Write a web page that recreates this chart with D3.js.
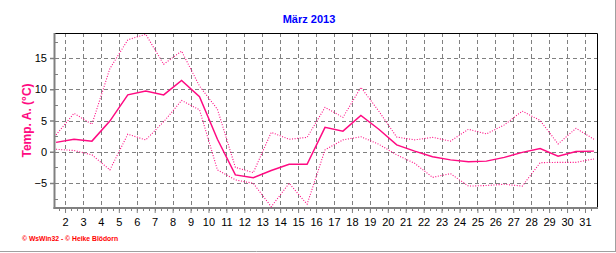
<!DOCTYPE html>
<html>
	<head>
		<meta charset=utf-8>
		<title>März 2013</title>
		<style>
			body { margin: 0; background: #fff; }
			svg { display: block; }
		</style>
	</head>
	<body>
            <script src="https://d3js.org/d3.v7.min.js"></script>

            <script>
                //datos: temperatura diaria (max, media, min)
                var days = d3.range(1, 32);
                var tempMax = [2.7, 6.15, 4.4, 13.3, 17.9, 18.8, 14.0, 16.1, 10.5, 6.8,
                               -2.5, -3.35, 3.1, 2.0, 2.3, 7.1, 5.5, 10.3, 6.5, 2.35,
                               1.9, 2.3, 1.7, 3.6, 2.85, 4.3, 6.5, 5.0, 1.25, 3.75, 2.0];
                var tempMean = [1.5, 2.0, 1.7, 4.9, 9.1, 9.7, 9.1, 11.4, 8.8, 2.0,
                                -3.7, -4.15, -3.0, -2.0, -2.0, 3.9, 3.3, 5.8, 3.6, 1.1,
                                0.1, -0.8, -1.3, -1.6, -1.5, -0.9, -0.1, 0.5, -0.7, 0.05, 0.1];
                var tempMin = [0.4, 0.2, -0.5, -2.9, 2.8, 1.9, 4.8, 8.2, 6.7, -2.9,
                               -4.5, -5.05, -8.8, -5.05, -8.4, 0.3, 1.9, 2.4, 1.2, -0.5,
                               -1.85, -4.1, -3.5, -5.5, -5.4, -5.2, -5.5, -1.75, -1.7, -1.7, -1.15];
                var xTicks = d3.range(2, 32);
                var yTicks = [-5, 0, 5, 10, 15];

                //colores
                var pink = "#ff0a82";
                var grid = "#808080";

                var svg = d3.select("body")
                        .append("svg")
                        .attr("width", 616)
                        .attr("height", 253);

                //escalas: los valores diarios se dibujan al mediodia (dia + 0.5)
                var x = d3.scaleLinear().domain([1.44, 31.67]).range([55, 597]);
                var y = d3.scaleLinear().domain([-9, 19]).range([208, 33]);

                var plotLeft = x.range()[0], plotRight = x.range()[1];
                var plotTop = y.range()[1], plotBottom = y.range()[0];

                //marco exterior gris (derecha y abajo)
                svg.append("line").attr("x1", 615.5).attr("x2", 615.5).attr("y1", 0).attr("y2", 252)
                    .attr("stroke", "#a0a0a0");
                svg.append("line").attr("x1", 0).attr("x2", 616).attr("y1", 251.5).attr("y2", 251.5)
                    .attr("stroke", "#a0a0a0");

                //titulo
                svg.append("text")
                    .attr("x", 309).attr("y", 23)
                    .attr("text-anchor", "middle")
                    .style("font", "bold 11px 'Liberation Sans', Arial, sans-serif")
                    .style("fill", "#0000ff")
                    .text("März 2013");

                //grid punteado
                svg.append("g").selectAll("line").data(xTicks).enter().append("line")
                    .attr("x1", d => Math.round(x(d)) + 0.5).attr("x2", d => Math.round(x(d)) + 0.5)
                    .attr("y1", plotTop).attr("y2", plotBottom)
                    .attr("stroke", grid).attr("stroke-dasharray", "4,3");
                svg.append("g").selectAll("line").data(yTicks).enter().append("line")
                    .attr("x1", plotLeft).attr("x2", plotRight)
                    .attr("y1", d => Math.round(y(d)) + 0.5).attr("y2", d => Math.round(y(d)) + 0.5)
                    .attr("stroke", grid).attr("stroke-dasharray", "4,3");

                //marco del grafico: arriba y derecha negro
                svg.append("path")
                    .attr("d", "M" + plotLeft + "," + (plotTop + 0.5) + "H" + (plotRight + 0.5) + "V" + plotBottom)
                    .attr("fill", "none").attr("stroke", "#000");

                //eje y
                var yAxis = svg.append("g").attr("transform", "translate(" + (plotLeft - 1) + ",0)");
                yAxis.call(d3.axisLeft(y).tickValues(yTicks).tickSize(4).tickPadding(3).tickFormat(d3.format("d")));
                yAxis.select(".domain").remove();
                yAxis.selectAll(".tick line").attr("stroke", grid).attr("stroke-width", 1.5);
                yAxis.selectAll(".tick text")
                    .style("font", "11px 'Liberation Sans', Arial, sans-serif").style("fill", "#000");
                //ticks menores del eje y cada 2.5
                svg.append("g").selectAll("line").data(d3.range(-7.5, 19, 2.5)).enter().append("line")
                    .attr("x1", plotLeft).attr("x2", plotLeft + 3)
                    .attr("y1", d => Math.round(y(d)) + 0.5).attr("y2", d => Math.round(y(d)) + 0.5)
                    .attr("stroke", grid);
                svg.append("line").attr("x1", plotLeft - 0.5).attr("x2", plotLeft - 0.5)
                    .attr("y1", plotTop).attr("y2", plotBottom + 1)
                    .attr("stroke", grid).attr("stroke-width", 2);

                //eje x
                var xAxis = svg.append("g").attr("transform", "translate(0," + (plotBottom + 1) + ")");
                xAxis.call(d3.axisBottom(x).tickValues(xTicks).tickSize(4).tickPadding(5).tickFormat(d3.format("d")));
                xAxis.select(".domain").remove();
                xAxis.selectAll(".tick line").attr("stroke", grid);
                xAxis.selectAll(".tick text")
                    .style("font", "11px 'Liberation Sans', Arial, sans-serif").style("fill", "#000");
                //ticks menores cada 8 horas
                var minorX = d3.range(1.67, 31.6, 1 / 3);
                svg.append("g").selectAll("line").data(minorX).enter().append("line")
                    .attr("x1", d => Math.round(x(d)) + 0.5).attr("x2", d => Math.round(x(d)) + 0.5)
                    .attr("y1", plotBottom).attr("y2", plotBottom + 3)
                    .attr("stroke", grid);
                svg.append("line").attr("x1", plotLeft - 1.5).attr("x2", plotRight + 1)
                    .attr("y1", plotBottom).attr("y2", plotBottom)
                    .attr("stroke", grid).attr("stroke-width", 2);

                //titulo del eje y
                svg.append("text")
                    .attr("transform", "translate(31," + ((plotTop + plotBottom) / 2) + ") rotate(-90)")
                    .attr("text-anchor", "middle")
                    .style("font", "bold 12px 'Liberation Sans', Arial, sans-serif")
                    .style("fill", pink)
                    .text("Temp. A. (°C)");

                //lineas
                var line = d3.line()
                    .x((d, i) => x(days[i] + 0.5))
                    .y(d => y(d));

                svg.append("path").datum(tempMax)
                    .attr("d", line).attr("fill", "none")
                    .attr("stroke", pink).attr("stroke-width", 1.1).attr("stroke-dasharray", "1,1.6");
                svg.append("path").datum(tempMin)
                    .attr("d", line).attr("fill", "none")
                    .attr("stroke", pink).attr("stroke-width", 1.1).attr("stroke-dasharray", "1,1.6");
                svg.append("path").datum(tempMean)
                    .attr("d", line).attr("fill", "none")
                    .attr("stroke", pink).attr("stroke-width", 1.5);

                //pie
                svg.append("text")
                    .attr("x", 22).attr("y", 241)
                    .style("font", "bold 6.8px 'Liberation Sans', Arial, sans-serif")
                    .style("fill", "#ff0000")
                    .text("© WsWin32 - © Heike Blödorn");
            </script>
	</body>
</html>
